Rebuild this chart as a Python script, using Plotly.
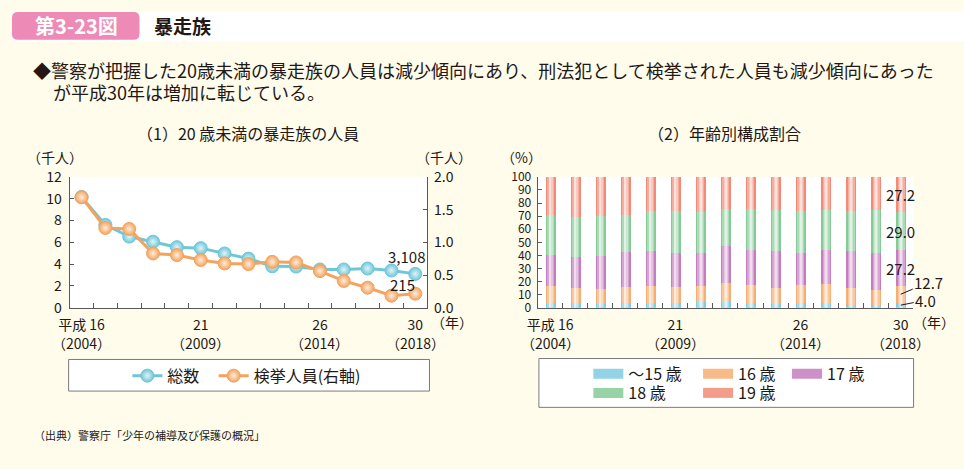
import plotly.graph_objects as go
import numpy as np

W, H = 964, 469
def px(x): return x / W
def py(y): return 1 - y / H

FONT = "Noto Sans CJK JP"
TXT = "#231815"
AX = "#595757"

# ---------------- data ----------------
years = list(range(2004, 2019))
idx = list(range(len(years)))
tick_idx = [0, 5, 10, 14]
tick_heisei = ["平成 16", "21", "26", "30"]
tick_western = ["（2004）", "（2009）", "（2014）", "（2018）"]

# (1) 20歳未満の暴走族の人員 (千人)
total = [10.16, 7.60, 6.53, 6.06, 5.56, 5.47, 4.98, 4.51, 3.80, 3.78, 3.51, 3.51, 3.60, 3.42, 3.108]
arrested = [1.69, 1.22, 1.205, 0.83, 0.805, 0.73, 0.678, 0.668, 0.702, 0.693, 0.561, 0.41, 0.307, 0.185, 0.215]

# (2) 年齢別構成割合 (%)
age_names = ["〜15 歳", "16 歳", "17 歳", "18 歳", "19 歳"]
share_u15 = [3.4, 3.4, 3.2, 3.9, 3.4, 3.4, 4.4, 4.4, 4.1, 3.2, 3.7, 3.7, 2.0, 2.0, 4.0]
share_16 = [13.2, 12.0, 11.2, 12.4, 13.4, 12.5, 12.4, 14.4, 13.5, 12.2, 13.4, 14.6, 13.4, 11.9, 12.7]
share_17 = [23.9, 23.6, 25.4, 26.6, 26.6, 26.3, 25.2, 28.3, 26.3, 27.8, 25.1, 26.3, 28.0, 28.1, 27.2]
share_18 = [30.5, 30.3, 30.7, 28.1, 30.5, 31.7, 31.2, 28.5, 32.0, 31.4, 32.2, 30.5, 30.7, 33.1, 29.0]
share_19 = [29.0, 30.7, 29.5, 29.0, 26.1, 26.1, 26.8, 24.4, 24.1, 25.4, 25.6, 24.9, 25.9, 24.9, 27.2]
shares = [share_u15, share_16, share_17, share_18, share_19]
age_colors = ["#7FCDE0", "#F6AE73", "#C47DBE", "#86CB97", "#F28A75"]

line_names = ["総数", "検挙人員(右軸)"]
line_colors = ["#6EC7D9", "#F4A35C"]


def blend(hexc, t):
    r, g, b = int(hexc[1:3], 16), int(hexc[3:5], 16), int(hexc[5:7], 16)
    r = round(r + (255 - r) * t); g = round(g + (255 - g) * t); b = round(b + (255 - b) * t)
    return f"#{r:02X}{g:02X}{b:02X}"


fig = go.Figure()

# ---------------- left: lines ----------------
for name, vals, col, yax, leg in [(line_names[0], total, line_colors[0], "y", "legend"),
                                  (line_names[1], arrested, line_colors[1], "y2", "legend2")]:
    fig.add_trace(go.Scatter(
        x=idx, y=vals, name=name, mode="lines+markers", xaxis="x", yaxis=yax,
        line=dict(color=col, width=3),
        marker=dict(size=13, color=col, line=dict(color=col, width=1),
                    gradient=dict(type="radial", color=blend(col, 0.8))),
        legend=leg, hoverinfo="skip"))

# ---------------- right: stacked bars with faux gradient ----------------
arr = np.array(shares)
bases = np.vstack([np.zeros(len(idx)), np.cumsum(arr, axis=0)[:-1]])
layers = [(0.40, 0.0), (0.28, 0.30), (0.16, 0.55), (0.06, 0.75)]
for k in range(len(shares)):
    for w, t in layers:
        fig.add_trace(go.Bar(
            x=idx, y=arr[k], base=bases[k], width=w, xaxis="x2", yaxis="y3",
            marker=dict(color=blend(age_colors[k], t), line=dict(width=0)),
            showlegend=False, hoverinfo="skip"))

# legend proxies for bars
bar_legends = ["legend3", "legend4", "legend5", "legend6", "legend7"]
for k in range(len(shares)):
    fig.add_trace(go.Scatter(
        x=[None], y=[None], name=age_names[k], mode="lines", xaxis="x2", yaxis="y3",
        line=dict(color=blend(age_colors[k], 0.15), width=10), legend=bar_legends[k]))

# ---------------- layout ----------------
yb, yt = 310, 173.3
minor = dict(tickvals=[i + 0.5 for i in range(len(idx) - 1)], ticks="inside", ticklen=5,
             tickcolor=AX, tickwidth=1)
tickfont = dict(family=FONT, size=14, color=TXT)
tickfont_s = dict(family=FONT, size=12, color=TXT)

fig.update_layout(
    width=W, height=H, autosize=False,
    margin=dict(l=0, r=0, t=0, b=0),
    paper_bgcolor="#FFFCEC", plot_bgcolor="#FFFFFF",
    barmode="overlay", bargap=0,
    font=dict(family=FONT, color=TXT),
    xaxis=dict(domain=[px(59.3), px(421)], range=[-0.5, 14.5], anchor="y",
               tickmode="array", tickvals=tick_idx, ticktext=tick_heisei, ticks="",
               minor=minor, showline=True, linecolor=AX, linewidth=1, showgrid=False,
               zeroline=False, tickfont=tickfont, ticklabelstandoff=4, fixedrange=True),
    yaxis=dict(domain=[py(yb), py(yt)], range=[0, 12], dtick=2, anchor="x",
               ticks="inside", ticklen=4, tickcolor=AX, showline=True, linecolor=AX,
               linewidth=1, showgrid=False, zeroline=False, tickfont=tickfont,
               ticklabelstandoff=4, fixedrange=True),
    yaxis2=dict(overlaying="y", side="right", anchor="x", range=[0, 2], dtick=0.5,
                tickformat=".1f", ticks="inside", ticklen=4, tickcolor=AX, showline=True,
                linecolor=AX, linewidth=1, showgrid=False, zeroline=False,
                tickfont=tickfont, ticklabelstandoff=3, fixedrange=True),
    xaxis2=dict(domain=[px(532.7), px(912.7)], range=[-0.5, 14.5], anchor="y3",
                tickmode="array", tickvals=tick_idx, ticktext=tick_heisei, ticks="",
                minor=minor, showline=True, linecolor=AX, linewidth=1, showgrid=False,
                zeroline=False, tickfont=tickfont, ticklabelstandoff=4, fixedrange=True),
    yaxis3=dict(domain=[py(yb), py(yt)], range=[0, 100], dtick=10, anchor="x2",
                ticks="inside", ticklen=4, tickcolor=AX, showline=True, linecolor=AX,
                linewidth=1, showgrid=False, zeroline=False, tickfont=tickfont_s,
                ticklabelstandoff=3, fixedrange=True),
)


def legend_at(x, y, size):
    return dict(x=px(x - 5), y=py(y), xanchor="left", yanchor="middle",
                orientation="h", bgcolor="rgba(0,0,0,0)", borderwidth=0,
                font=dict(family=FONT, size=size, color=TXT), itemclick=False,
                itemdoubleclick=False)


fig.update_layout(
    legend=legend_at(122.7, 381, 16),
    legend2=legend_at(210, 381, 16),
    legend3=legend_at(589, 379, 16),
    legend4=legend_at(700, 379, 16),
    legend5=legend_at(790, 379, 16),
    legend6=legend_at(589, 399, 16),
    legend7=legend_at(700, 399, 16),
)

# ---------------- shapes ----------------
def rrect(x0, y0, x1, y1, r):
    rx, ry = r / W, r / H
    X0, X1 = px(x0), px(x1)
    Y0, Y1 = py(y1), py(y0)  # bottom, top in paper
    return (f"M{X0+rx},{Y1} L{X1-rx},{Y1} Q{X1},{Y1} {X1},{Y1-ry} "
            f"L{X1},{Y0+ry} Q{X1},{Y0} {X1-rx},{Y0} L{X0+rx},{Y0} "
            f"Q{X0},{Y0} {X0},{Y0+ry} L{X0},{Y1-ry} Q{X0},{Y1} {X0+rx},{Y1} Z")

shapes = [
    dict(type="rect", xref="paper", yref="paper", x0=0, x1=1, y0=py(32), y1=1,
         fillcolor="#FFFFFF", line=dict(width=0), layer="below"),
    dict(type="path", xref="paper", yref="paper", path=rrect(1, 1, 130, 30, 6),
         fillcolor="#EE8AB6", line=dict(width=0), layer="below"),
    dict(type="rect", xref="paper", yref="paper", x0=px(58.3), x1=px(423.3),
         y0=py(397), y1=py(364), fillcolor="#FFFFFF", line=dict(color="#7A7A7A", width=1),
         layer="below"),
    dict(type="rect", xref="paper", yref="paper", x0=px(534), x1=px(913),
         y0=py(414), y1=py(363), fillcolor="#FFFFFF", line=dict(color="#7A7A7A", width=1),
         layer="below"),
]
fig.update_layout(shapes=shapes)

# ---------------- annotations ----------------
ann = []
def txt(x, y, s, size, xanchor="center", color=TXT, bold=False):
    ann.append(dict(x=px(x), y=py(y), xref="paper", yref="paper", text=(f"<b>{s}</b>" if bold else s),
                    showarrow=False, xanchor=xanchor, yanchor="middle",
                    font=dict(family=FONT, size=size, color=color)))

txt(66, 15.5, "第3-23図", 20, color="#FFFFFF", bold=True)
txt(143, 15.5, "暴走族", 19, xanchor="left", bold=True)
txt(20, 62, "◆警察が把握した20歳未満の暴走族の人員は減少傾向にあり、刑法犯として検挙された人員も減少傾向にあった", 18, xanchor="left")
txt(40, 85, "が平成30年は増加に転じている。", 18, xanchor="left")
txt(240, 127, "（1）20 歳未満の暴走族の人員", 16)
txt(722, 127, "（2）年齢別構成割合", 16)
txt(45, 153, "（千人）", 14)
txt(438, 153, "（千人）", 14)
txt(516, 153, "（%）", 14)
txt(423, 325, "（年）", 14, xanchor="left")
txt(910, 325, "（年）", 14, xanchor="left")
txt(21, 443, "（出典）警察庁「少年の補導及び保護の概況」", 11, xanchor="left")

# western-year second row of tick labels
for xa in ["x", "x2"]:
    for i, lab in zip(tick_idx, tick_western):
        ann.append(dict(x=i, y=py(347), xref=xa, yref="paper", text=lab, showarrow=False,
                        xanchor="center", yanchor="middle", font=dict(family=FONT, size=14, color=TXT)))

# data labels left chart
ann.append(dict(x=idx[-1], y=total[-1], xref="x", yref="y", text=f"{round(total[-1]*1000):,}",
                showarrow=False, xshift=-9, yshift=17, font=dict(family=FONT, size=15, color=TXT)))
ann.append(dict(x=idx[-1], y=arrested[-1], xref="x", yref="y2", text=f"{round(arrested[-1]*1000)}",
                showarrow=False, xshift=-13, yshift=9, font=dict(family=FONT, size=15, color=TXT)))

# data labels right chart (last bar)
last = len(idx) - 1
for k in [2, 3, 4]:
    ann.append(dict(x=idx[last], y=bases[k][last] + arr[k][last] / 2, xref="x2", yref="y3",
                    text=f"{arr[k][last]:.1f}", showarrow=False,
                    font=dict(family=FONT, size=15, color=TXT)))
for k, (axo, ayo) in [(1, (28, -12)), (0, (25, -5))]:
    ann.append(dict(x=idx[last], y=bases[k][last] + arr[k][last] / 2, xref="x2", yref="y3",
                    text=f"{arr[k][last]:.1f}", showarrow=True, arrowhead=0, arrowwidth=1,
                    arrowcolor=TXT, ax=axo, ay=ayo, standoff=0,
                    font=dict(family=FONT, size=15, color=TXT)))

fig.update_layout(annotations=ann)

post = ("document.documentElement.style.margin='0';document.body.style.margin='0';"
        "document.body.style.padding='0';document.body.style.overflow='hidden';")
fig.write_html("out.html", config={"displayModeBar": False}, post_script=post)
